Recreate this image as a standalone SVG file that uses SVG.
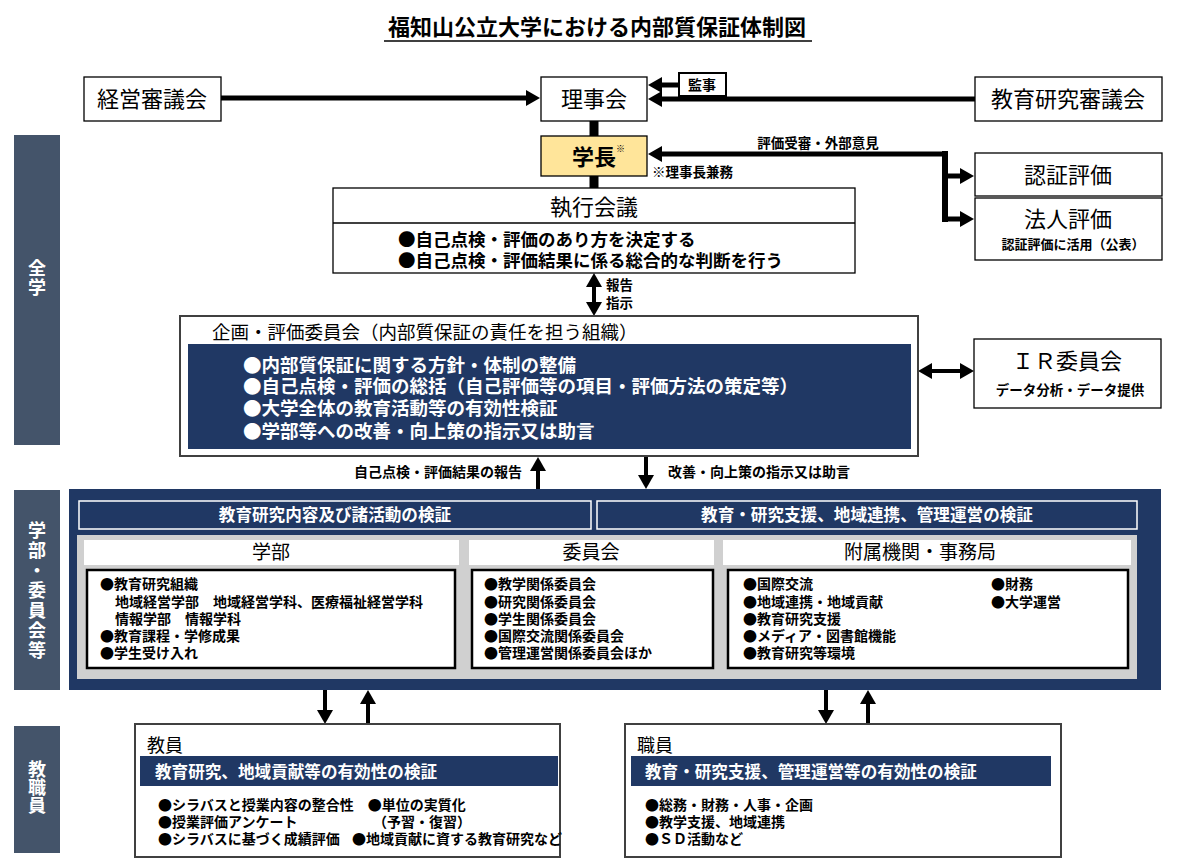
<svg xmlns="http://www.w3.org/2000/svg" width="1177" height="868" viewBox="0 0 1177 868">
<style>
text{font-family:"Noto Sans CJK JP","Noto Sans",sans-serif;fill:#000}
.b{font-weight:bold}
.w{fill:#fff}
.box{fill:#fff;stroke:#000;stroke-width:1.3}
.navy{fill:#203864}
.side{fill:#44546A}
.c{text-anchor:middle}
.e{text-anchor:end}
.v{writing-mode:vertical-rl;text-orientation:upright;font-size:18px;font-weight:bold;fill:#fff}
.ln{stroke:#000;stroke-width:5;fill:none}
.ln4{stroke:#000;stroke-width:4;fill:none}
.fat{stroke:#000;stroke-width:9;fill:none}
.s14{font-size:14px}
.s22{font-size:22px}
</style>
<defs>
<marker id="ah" markerUnits="userSpaceOnUse" markerWidth="16" markerHeight="18" refX="1" refY="8" orient="auto-start-reverse" viewBox="0 0 16 16">
<path d="M0,0 L14,8 L0,16 z" fill="#000"/>
</marker>
</defs>
<rect width="1177" height="868" fill="#fff"/>

<g id="title">
<text x="597" y="35" class="c b" font-size="22">福知山公立大学における内部質保証体制図</text>
<line x1="384" y1="41" x2="812" y2="41" stroke="#000" stroke-width="1.5"/>
</g>

<g id="side-zengaku">
<rect x="14" y="135" width="46" height="310" class="side"/>
<text x="37" y="259" class="v" letter-spacing="1">全学</text>
</g>
<g id="side-gakubu">
<rect x="14" y="490" width="46" height="200" class="side"/>
<text x="37" y="521" class="v" letter-spacing="2">学部・委員会等</text>
</g>
<g id="side-kyoshokuin">
<rect x="14" y="726" width="46" height="127" class="side"/>
<text x="37" y="760" class="v">教職員</text>
</g>

<g id="connectors">
<line x1="221" y1="98" x2="527" y2="98" class="ln" marker-end="url(#ah)"/>
<line x1="975" y1="99" x2="661" y2="99" class="ln" marker-end="url(#ah)"/>
<line x1="679" y1="85" x2="661" y2="85" class="ln" marker-end="url(#ah)"/>
<line x1="594" y1="121" x2="594" y2="136" class="fat"/>
<line x1="594" y1="176" x2="594" y2="188" class="fat"/>
<line x1="947" y1="154" x2="661" y2="154" class="ln" marker-end="url(#ah)"/>
<line x1="945" y1="151" x2="945" y2="222" stroke="#000" stroke-width="6"/>
<line x1="945" y1="176" x2="961" y2="176" class="ln" marker-end="url(#ah)"/>
<line x1="945" y1="219" x2="961" y2="219" class="ln" marker-end="url(#ah)"/>
<line x1="594" y1="286" x2="594" y2="303" class="ln4" marker-start="url(#ah)" marker-end="url(#ah)"/>
<line x1="931" y1="371" x2="961" y2="371" class="ln4" marker-start="url(#ah)" marker-end="url(#ah)"/>
<line x1="538" y1="489" x2="538" y2="470" class="ln4" marker-end="url(#ah)"/>
<line x1="646" y1="457" x2="646" y2="476" class="ln4" marker-end="url(#ah)"/>
<line x1="325" y1="690" x2="325" y2="711" class="ln4" marker-end="url(#ah)"/>
<line x1="368" y1="724" x2="368" y2="703" class="ln4" marker-end="url(#ah)"/>
<line x1="826" y1="690" x2="826" y2="711" class="ln4" marker-end="url(#ah)"/>
<line x1="868" y1="724" x2="868" y2="703" class="ln4" marker-end="url(#ah)"/>
</g>

<g id="keiei">
<rect x="84" y="77" width="137" height="44" class="box"/>
<text x="152" y="107" class="c s22">経営審議会</text>
</g>
<g id="rijikai">
<rect x="541" y="77" width="106" height="44" class="box"/>
<text x="594" y="107" class="c s22">理事会</text>
</g>
<g id="kanji">
<rect x="679" y="73" width="47" height="23" fill="#fff" stroke="#000" stroke-width="2"/>
<text x="702" y="90" class="c b" font-size="14">監事</text>
</g>
<g id="kyoiku-shingi">
<rect x="975" y="77" width="187" height="44" class="box"/>
<text x="1068" y="107" class="c s22">教育研究審議会</text>
</g>
<g id="gakucho">
<rect x="541" y="136" width="106" height="40" fill="#FFE59A" stroke="#000" stroke-width="1.3"/>
<text x="572" y="165" class="b s22">学長<tspan font-size="9" dy="-13">※</tspan></text>
<text x="652" y="177" class="b" font-size="13.5">※理事長兼務</text>
</g>
<g id="label-hyoka">
<text x="818" y="148" class="c b" font-size="13.5">評価受審・外部意見</text>
</g>
<g id="ninsho">
<rect x="975" y="153" width="187" height="43" class="box"/>
<text x="1068" y="183" class="c s22">認証評価</text>
</g>
<g id="hojin">
<rect x="975" y="198" width="187" height="62" class="box"/>
<text x="1068" y="227" class="c s22">法人評価</text>
<text x="1073" y="249" class="c b" font-size="13">認証評価に活用（公表）</text>
</g>
<g id="shikko">
<rect x="333" y="188" width="522" height="85" class="box"/>
<line x1="333" y1="223" x2="855" y2="223" stroke="#000" stroke-width="1.3"/>
<text x="594" y="215" class="c s22">執行会議</text>
<text class="b" font-size="17.5"><tspan x="398" y="246">●自己点検・評価のあり方を決定する</tspan><tspan x="398" y="267">●自己点検・評価結果に係る総合的な判断を行う</tspan></text>
</g>
<g id="label-hokoku">
<text class="b" font-size="13.5"><tspan x="606" y="290">報告</tspan><tspan x="606" y="308">指示</tspan></text>
</g>
<g id="kikaku">
<rect x="180" y="316" width="738" height="140" fill="#fff" stroke="#404040" stroke-width="2"/>
<text x="212" y="339" font-size="18.5">企画・評価委員会（内部質保証の責任を担う組織）</text>
<rect x="188" y="344" width="723" height="105" class="navy"/>
<text class="b w" font-size="18.5"><tspan x="243" y="372">●内部質保証に関する方針・体制の整備</tspan><tspan x="243" y="393">●自己点検・評価の総括（自己評価等の項目・評価方法の策定等）</tspan><tspan x="243" y="415">●大学全体の教育活動等の有効性検証</tspan><tspan x="243" y="438">●学部等への改善・向上策の指示又は助言</tspan></text>
</g>
<g id="ir">
<rect x="974" y="339" width="187" height="69" class="box"/>
<text x="1067" y="369" class="c s22">ＩＲ委員会</text>
<text x="1070" y="395" class="c b" font-size="13.5">データ分析・データ提供</text>
</g>
<g id="label-report">
<text x="522" y="477" class="e b" font-size="14">自己点検・評価結果の報告</text>
<text x="668" y="477" class="b" font-size="14">改善・向上策の指示又は助言</text>
</g>

<g id="gakubu-iinkai">
<rect x="69" y="489" width="1092" height="201" class="navy"/>
<rect x="79" y="501" width="512" height="28" class="navy" stroke="#fff" stroke-width="1.5"/>
<text x="335" y="521" class="c b w" font-size="16.6">教育研究内容及び諸活動の検証</text>
<rect x="597" y="501" width="540" height="28" class="navy" stroke="#fff" stroke-width="1.5"/>
<text x="867" y="521" class="c b w" font-size="16.6">教育・研究支援、地域連携、管理運営の検証</text>
<rect x="77" y="535" width="1060" height="144" fill="#D0D0D0"/>
</g>
<g id="gakubu">
<rect x="84" y="540" width="375" height="25" fill="#fff"/>
<text x="271" y="559" class="c" font-size="19">学部</text>
<rect x="87" y="570" width="368" height="98" fill="#fff" stroke="#000" stroke-width="2.5"/>
<text class="b s14"><tspan x="100" y="589">●教育研究組織</tspan><tspan x="115" y="607">地域経営学部　地域経営学科、医療福祉経営学科</tspan><tspan x="115" y="624">情報学部　情報学科</tspan><tspan x="100" y="641">●教育課程・学修成果</tspan><tspan x="100" y="658">●学生受け入れ</tspan></text>
</g>
<g id="iinkai">
<rect x="469" y="540" width="245" height="25" fill="#fff"/>
<text x="591" y="559" class="c" font-size="19">委員会</text>
<rect x="472" y="570" width="241" height="98" fill="#fff" stroke="#000" stroke-width="2.5"/>
<text class="b s14"><tspan x="484" y="589">●教学関係委員会</tspan><tspan x="484" y="607">●研究関係委員会</tspan><tspan x="484" y="624">●学生関係委員会</tspan><tspan x="484" y="641">●国際交流関係委員会</tspan><tspan x="484" y="658">●管理運営関係委員会ほか</tspan></text>
</g>
<g id="fuzoku">
<rect x="723" y="540" width="408" height="25" fill="#fff"/>
<text x="920" y="559" class="c" font-size="19">附属機関・事務局</text>
<rect x="728" y="570" width="400" height="98" fill="#fff" stroke="#000" stroke-width="2.5"/>
<text class="b s14"><tspan x="743" y="589">●国際交流</tspan><tspan x="743" y="607">●地域連携・地域貢献</tspan><tspan x="743" y="624">●教育研究支援</tspan><tspan x="743" y="641">●メディア・図書館機能</tspan><tspan x="743" y="658">●教育研究等環境</tspan></text>
<text class="b s14"><tspan x="991" y="589">●財務</tspan><tspan x="991" y="607">●大学運営</tspan></text>
</g>

<g id="kyoin">
<rect x="135" y="724" width="425" height="133" fill="#fff" stroke="#404040" stroke-width="2"/>
<text x="147" y="752" font-size="18">教員</text>
<rect x="140" y="756" width="418" height="30" class="navy"/>
<text x="155" y="778" class="b w" font-size="16.6">教育研究、地域貢献等の有効性の検証</text>
<text class="b s14"><tspan x="158" y="810">●シラバスと授業内容の整合性　●単位の実質化</tspan><tspan x="158" y="827">●授業評価アンケート</tspan><tspan x="373" y="827">（予習・復習）</tspan><tspan x="158" y="844">●シラバスに基づく成績評価</tspan><tspan x="352" y="844">●地域貢献に資する教育研究など</tspan></text>
</g>
<g id="shokuin">
<rect x="625" y="724" width="436" height="133" fill="#fff" stroke="#404040" stroke-width="2"/>
<text x="637" y="752" font-size="18">職員</text>
<rect x="631" y="756" width="420" height="30" class="navy"/>
<text x="645" y="778" class="b w" font-size="16.6">教育・研究支援、管理運営等の有効性の検証</text>
<text class="b s14"><tspan x="645" y="810">●総務・財務・人事・企画</tspan><tspan x="645" y="827">●教学支援、地域連携</tspan><tspan x="645" y="844">●ＳＤ活動など</tspan></text>
</g>
</svg>
